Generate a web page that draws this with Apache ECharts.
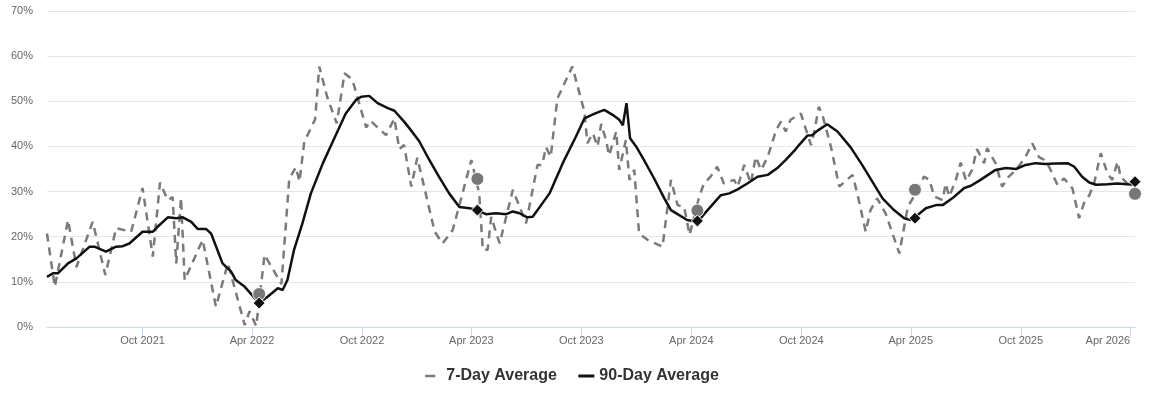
<!DOCTYPE html>
<html><head><meta charset="utf-8">
<script src="https://cdn.jsdelivr.net/npm/echarts@6/dist/echarts.min.js"></script>
<style>html,body{margin:0;padding:0;background:#fff}#chart{width:1150px;height:401px}</style>
</head><body><div id="chart"></div>
<script>
const sevenDay = [
['2021-04-25',20.7],['2021-05-08',8.9],['2021-05-30',23.7],['2021-06-13',13.3],['2021-07-10',23.3],
['2021-07-31',11.5],['2021-08-18',21.9],['2021-09-12',21.1],['2021-10-01',30.8],['2021-10-18',15.6],
['2021-10-30',32.0],['2021-11-12',28.1],['2021-11-20',28.8],['2021-11-26',14.1],['2021-12-04',28.6],
['2021-12-10',10.4],['2022-01-09',19.3],['2022-01-31',4.5],['2022-02-20',14.1],['2022-03-20',0.4],
['2022-03-28',3.5],['2022-04-08',0.2],['2022-04-22',16.0],['2022-05-20',9.5],['2022-06-02',32.8],
['2022-06-13',35.4],['2022-06-19',32.2],['2022-06-27',41.0],['2022-07-15',46.0],['2022-07-22',57.7],
['2022-08-04',51.0],['2022-08-20',45.1],['2022-09-02',56.2],['2022-09-15',54.8],['2022-10-08',44.2],
['2022-10-15',45.7],['2022-11-10',42.5],['2022-11-24',46.2],['2022-12-02',39.4],['2022-12-10',40.3],
['2022-12-22',31.1],['2023-01-01',37.5],['2023-01-30',21.1],['2023-02-12',18.5],['2023-03-01',21.5],
['2023-04-01',37.0],['2023-04-14',29.6],['2023-04-20',17.1],['2023-04-28',17.1],['2023-05-04',24.4],
['2023-05-18',18.5],['2023-06-09',30.4],['2023-07-01',23.0],['2023-07-20',35.9],['2023-07-28',35.9],
['2023-08-03',39.9],['2023-08-11',37.7],['2023-08-22',50.6],['2023-09-16',57.7],['2023-10-06',47.7],
['2023-10-11',40.7],['2023-10-20',42.9],['2023-10-28',40.0],['2023-11-03',45.0],['2023-11-11',41.4],
['2023-11-16',38.0],['2023-11-28',43.3],['2023-12-03',34.8],['2023-12-14',41.4],['2023-12-20',32.6],
['2023-12-28',34.8],['2024-01-05',20.7],['2024-01-19',19.3],['2024-02-13',17.8],['2024-02-27',32.6],
['2024-03-09',27.0],['2024-03-20',26.6],['2024-03-29',20.4],['2024-04-14',28.9],['2024-04-22',31.8],
['2024-05-03',33.3],['2024-05-14',35.5],['2024-05-25',31.8],['2024-06-11',32.6],['2024-06-17',31.1],
['2024-06-28',35.9],['2024-07-09',31.8],['2024-07-17',37.7],['2024-07-26',34.8],['2024-08-06',37.7],
['2024-08-20',43.6],['2024-08-28',45.5],['2024-09-05',43.3],['2024-09-13',45.9],['2024-09-30',47.3],
['2024-10-17',40.3],['2024-10-22',42.9],['2024-10-30',48.8],['2024-11-05',47.0],['2024-11-19',40.0],
['2024-12-03',31.1],['2024-12-25',33.7],['2025-01-02',29.6],['2025-01-16',21.1],['2025-01-24',25.9],
['2025-02-04',28.5],['2025-02-18',25.2],['2025-03-13',16.3],['2025-03-27',26.6],['2025-04-09',29.6],
['2025-04-23',33.3],['2025-05-02',32.6],['2025-05-10',28.9],['2025-05-24',28.1],['2025-05-29',31.8],
['2025-06-04',28.9],['2025-06-15',32.6],['2025-06-23',36.4],['2025-07-02',32.4],['2025-07-12',34.8],
['2025-07-20',39.4],['2025-08-01',36.3],['2025-08-06',39.6],['2025-08-20',36.3],['2025-08-31',31.1],
['2025-09-11',33.3],['2025-09-23',34.8],['2025-10-09',37.7],['2025-10-20',40.7],['2025-10-31',37.7],
['2025-11-09',37.0],['2025-11-17',35.5],['2025-12-01',31.5],['2025-12-12',32.9],['2025-12-26',30.7],
['2026-01-06',24.1],['2026-01-14',27.4],['2026-01-23',29.2],['2026-01-31',31.8],['2026-02-11',38.5],
['2026-02-22',34.1],['2026-03-02',32.6],['2026-03-11',36.6],['2026-03-16',33.3],['2026-03-27',31.8],
['2026-04-09',30.0]
];
const ninetyDay = [
['2021-04-25',11.1],['2021-05-05',11.9],['2021-05-13',11.9],['2021-05-30',14.1],['2021-06-13',15.2],
['2021-07-05',17.8],['2021-07-13',17.8],['2021-08-01',16.7],['2021-08-18',17.8],['2021-08-29',17.9],
['2021-09-09',18.5],['2021-10-01',21.1],['2021-10-18',21.1],['2021-10-26',22.2],['2021-11-12',24.3],
['2021-11-26',24.1],['2021-12-07',24.3],['2021-12-21',23.3],['2022-01-01',21.7],['2022-01-15',21.7],
['2022-01-23',20.7],['2022-02-11',14.1],['2022-02-25',12.3],['2022-03-05',10.4],['2022-03-20',8.9],
['2022-04-13',5.3],['2022-04-27',6.7],['2022-05-14',8.6],['2022-05-22',8.2],['2022-05-30',10.4],
['2022-06-10',17.1],['2022-06-24',23.0],['2022-07-08',29.6],['2022-07-28',36.3],['2022-08-16',41.8],
['2022-09-04',47.3],['2022-09-21',50.3],['2022-09-30',51.0],['2022-10-13',51.2],['2022-10-27',49.6],
['2022-11-13',48.5],['2022-11-24',47.9],['2022-12-10',45.5],['2022-12-19',44.0],['2023-01-04',41.2],
['2023-01-21',37.0],['2023-02-06',33.3],['2023-02-23',29.6],['2023-03-12',26.6],['2023-03-29',26.3],
['2023-04-11',25.9],['2023-04-25',25.0],['2023-05-12',25.2],['2023-05-29',25.0],['2023-06-09',25.6],
['2023-06-20',25.2],['2023-07-03',24.3],['2023-07-12',24.4],['2023-07-26',27.0],['2023-08-09',29.6],
['2023-08-31',36.3],['2023-09-22',42.2],['2023-10-06',46.2],['2023-10-22',47.2],['2023-11-08',48.1],
['2023-11-22',47.0],['2023-12-03',45.9],['2023-12-09',44.7],['2023-12-15',49.6],['2023-12-21',41.8],
['2023-12-31',40.0],['2024-01-13',37.0],['2024-01-30',32.9],['2024-02-16',28.5],['2024-02-27',25.9],
['2024-03-09',25.0],['2024-03-25',23.7],['2024-04-11',23.3],['2024-04-28',25.9],['2024-05-20',29.2],
['2024-06-03',29.6],['2024-06-17',30.5],['2024-07-03',31.8],['2024-07-20',33.3],['2024-08-06',33.7],
['2024-08-22',35.2],['2024-09-05',37.0],['2024-09-19',39.0],['2024-09-27',40.3],['2024-10-11',42.4],
['2024-10-19',42.5],['2024-10-28',43.5],['2024-11-13',44.9],['2024-11-30',43.3],['2024-12-22',39.8],
['2025-01-10',35.9],['2025-01-27',32.2],['2025-02-13',28.5],['2025-03-04',25.9],['2025-03-21',24.1],
['2025-04-01',23.7],['2025-04-08',24.3],['2025-04-26',26.3],['2025-05-13',27.0],['2025-05-24',27.0],
['2025-06-09',28.5],['2025-06-29',30.8],['2025-07-10',31.3],['2025-07-26',32.6],['2025-08-20',34.8],
['2025-09-06',35.2],['2025-09-23',35.0],['2025-10-09',35.9],['2025-10-26',36.3],['2025-11-11',36.1],
['2025-11-28',36.2],['2025-12-18',36.3],['2025-12-29',35.5],['2026-01-11',33.3],['2026-01-23',32.0],
['2026-02-03',31.5],['2026-02-22',31.6],['2026-03-11',31.8],['2026-03-27',31.6],['2026-04-09',31.5]
];
const markerDates = ['2022-04-13','2023-04-11','2024-04-11','2025-04-08','2026-04-09'];
const markerSeven = [7.3, 32.8, 25.8, 30.4, 29.5];
const markerNinety = [5.3, 25.9, 23.5, 24.1, 32.2];
const tickDates = ['2021-10-01','2022-04-01','2022-10-01','2023-04-01','2023-10-01','2024-04-01','2024-10-01','2025-04-01','2025-10-01','2026-04-01'];
const tickLabels = ['Oct 2021','Apr 2022','Oct 2022','Apr 2023','Oct 2023','Apr 2024','Oct 2024','Apr 2025','Oct 2025','Apr 2026'];
const axisStart = '2021-04-25';
const axisEnd = '2026-04-09';

function ts(s){const p=s.split('-').map(Number);return Date.UTC(p[0],p[1]-1,p[2]);}
const tickTs = tickDates.map(ts);
const FONT = '"Liberation Sans", Arial, Helvetica, sans-serif';

const chart = echarts.init(document.getElementById('chart'), null, {renderer:'canvas'});
chart.setOption({
  animation: false,
  backgroundColor: '#fff',
  grid: {left: 47, right: 15, top: 11, bottom: 74},
  xAxis: {
    type: 'value',
    min: ts(axisStart), max: ts(axisEnd),
    axisLine: {show: true, lineStyle: {color: '#ccd6eb', width: 1}},
    axisTick: {show: true, length: 10, lineStyle: {color: '#ccd6eb'}, customValues: tickTs},
    axisLabel: {
      customValues: tickTs, color: '#666', fontSize: 11, fontFamily: FONT, margin: 8,
      alignMaxLabel: 'right', showMinLabel: true, showMaxLabel: true,
      formatter: function(v){
        let best = 0, bd = Infinity;
        tickTs.forEach((t, i) => { const d = Math.abs(t - v); if (d < bd) { bd = d; best = i; } });
        return tickLabels[best];
      }
    },
    splitLine: {show: false},
    minorTick: {show: false}
  },
  yAxis: {
    type: 'value', min: 0, max: 70, interval: 10,
    axisLine: {show: false}, axisTick: {show: false},
    axisLabel: {formatter: '{value}%', color: '#666', fontSize: 11, fontFamily: FONT, margin: 14},
    splitLine: {lineStyle: {color: '#e6e6e6', width: 1}}
  },
  legend: {
    top: 363, left: 419, itemWidth: 16, itemHeight: 12, itemGap: 20,
    itemStyle: {opacity: 0},
    textStyle: {fontSize: 16, fontWeight: 'bold', color: '#333', fontFamily: FONT},
    data: [
      {name: '7-Day Average', itemStyle: {opacity: 0}, lineStyle: {type: [10, 6], width: 2.5, color: '#7a7a7a', opacity: 1}},
      {name: '90-Day Average', itemStyle: {opacity: 0}, lineStyle: {width: 3, color: '#111', opacity: 1}}
    ]
  },
  series: [
    {
      name: '7-Day Average', type: 'line', symbol: 'none',
      data: sevenDay.map(d => [ts(d[0]), d[1]]),
      lineStyle: {color: '#7a7a7a', width: 2.5, type: [8, 6]},
      itemStyle: {color: '#7a7a7a'}, z: 2
    },
    {
      name: '90-Day Average', type: 'line', symbol: 'none',
      data: ninetyDay.map(d => [ts(d[0]), d[1]]),
      lineStyle: {color: '#111', width: 2.5},
      itemStyle: {color: '#111'}, z: 3
    },
    {
      name: '7-Day marker', type: 'scatter', symbol: 'circle', symbolSize: 13,
      data: markerDates.map((d, i) => [ts(d), markerSeven[i]]),
      itemStyle: {color: '#777', borderColor: '#fff', borderWidth: 1, opacity: 1}, z: 4
    },
    {
      name: '90-Day marker', type: 'scatter', symbol: 'diamond', symbolSize: 12,
      data: markerDates.map((d, i) => [ts(d), markerNinety[i]]),
      itemStyle: {color: '#111', borderColor: '#fff', borderWidth: 1, opacity: 1}, z: 5
    }
  ]
});
</script></body></html>
